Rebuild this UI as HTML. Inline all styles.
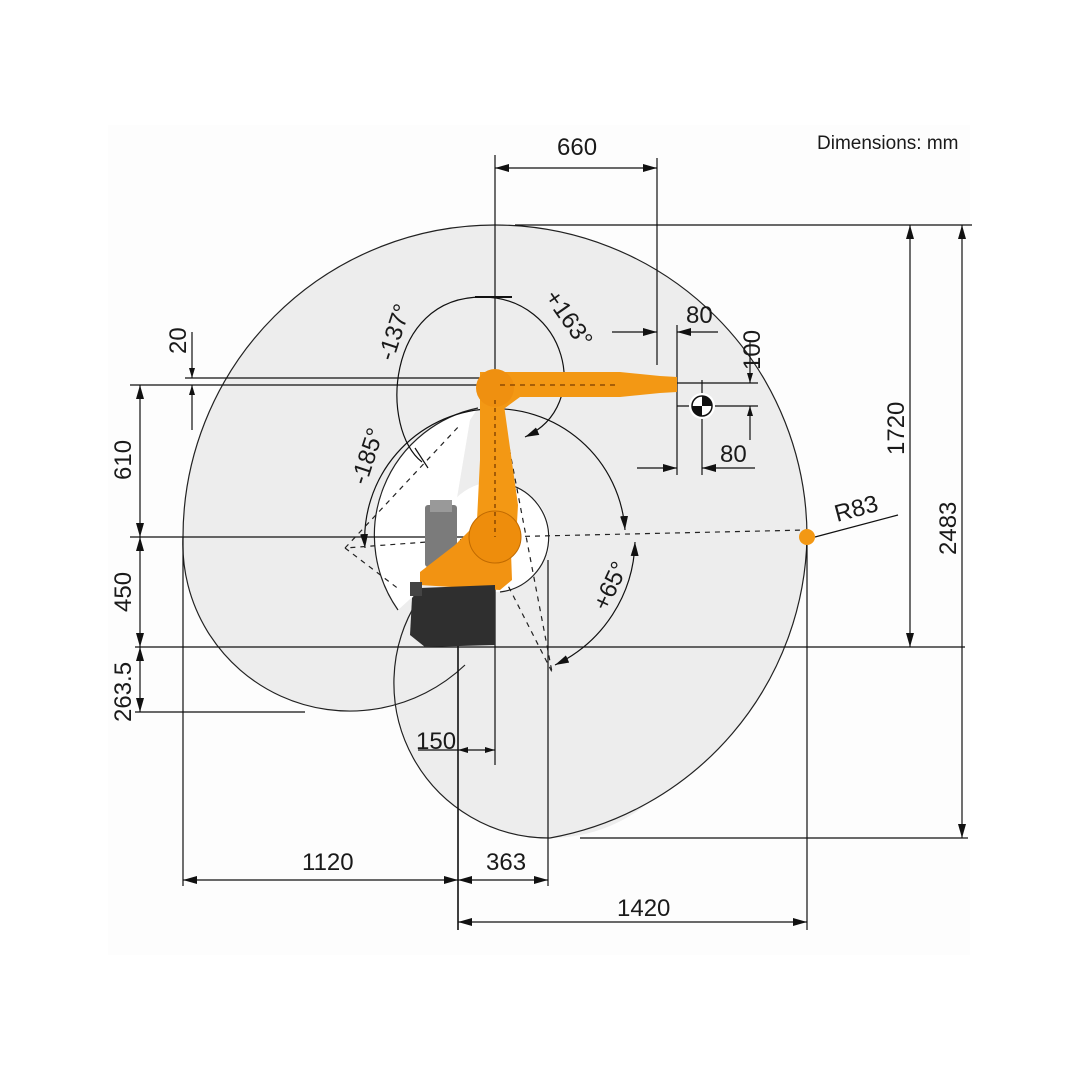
<!DOCTYPE html>
<html><head><meta charset="utf-8"><style>
html,body{margin:0;padding:0;background:#fff;}
svg{display:block;}
text{font-family:"Liberation Sans",sans-serif;fill:#1a1a1a;}
</style></head><body>
<svg width="1080" height="1080" viewBox="0 0 1080 1080" xmlns="http://www.w3.org/2000/svg">
<defs>
<marker id="a" viewBox="0 0 10 6" refX="10" refY="3" markerWidth="10" markerHeight="6" orient="auto-start-reverse" markerUnits="userSpaceOnUse"><path d="M0,0 L10,3 L0,6 Z" fill="#111"/></marker>
<marker id="b" viewBox="0 0 14 8" refX="14" refY="4" markerWidth="14" markerHeight="8" orient="auto-start-reverse" markerUnits="userSpaceOnUse"><path d="M0,0 L14,4 L0,8 Z" fill="#111"/></marker>
</defs>
<rect x="108" y="125" width="862" height="830" fill="#fdfdfd"/>
<!-- envelope fill -->
<g fill="#ededed">
<path d="M183,537 A312,312 0 0 1 807,537 A312,312 0 0 1 550,838 L495,537 Z"/>
<path d="M183,537 A167,167 0 0 0 465,665 L495,537 Z"/>
<circle cx="550" cy="683" r="155"/>
</g>
<!-- inner white -->
<g fill="#fff">
<path d="M478,408 A130,130 0 0 0 398,610 L420,590 L455,510 L470,420 Z"/>
<circle cx="495" cy="537" r="55"/>
</g>
<!-- envelope outlines -->
<g fill="none" stroke="#222" stroke-width="1.2">
<path d="M183,537 A312,312 0 0 1 807,537 A312,312 0 0 1 550,838"/>
<path d="M183,537 A167,167 0 0 0 465,665"/>
<path d="M550,838 A155,155 0 0 1 418,600"/>
<path d="M478,408 A130,130 0 0 0 398,610"/>
<path d="M507,484 A55,55 0 0 1 500,592"/>
</g>
<!-- dimension lines -->
<g stroke="#111" stroke-width="1.2" fill="none">
<line x1="495" y1="155" x2="495" y2="765"/>
<line x1="657" y1="158" x2="657" y2="365"/>
<line x1="495" y1="168" x2="657" y2="168" marker-start="url(#b)" marker-end="url(#b)"/>
<line x1="515" y1="225" x2="972" y2="225"/>
<line x1="910" y1="225" x2="910" y2="647" marker-start="url(#b)" marker-end="url(#b)"/>
<line x1="962" y1="225" x2="962" y2="838" marker-start="url(#b)" marker-end="url(#b)"/>
<line x1="580" y1="838" x2="968" y2="838"/>
<line x1="135" y1="647" x2="965" y2="647"/>
<line x1="130" y1="537" x2="495" y2="537"/>
<line x1="130" y1="385" x2="495" y2="385"/>
<line x1="185" y1="378" x2="495" y2="378"/>
<line x1="140" y1="385" x2="140" y2="537" marker-start="url(#b)" marker-end="url(#b)"/>
<line x1="140" y1="537" x2="140" y2="647" marker-start="url(#b)" marker-end="url(#b)"/>
<line x1="140" y1="647" x2="140" y2="712" marker-start="url(#b)" marker-end="url(#b)"/>
<line x1="135" y1="712" x2="305" y2="712"/>
<line x1="192" y1="332" x2="192" y2="378" marker-end="url(#a)"/>
<line x1="192" y1="430" x2="192" y2="385" marker-end="url(#a)"/>
<line x1="183" y1="537" x2="183" y2="886"/>
<line x1="458" y1="645" x2="458" y2="930" stroke-width="1.6"/>
<line x1="548" y1="560" x2="548" y2="886"/>
<line x1="807" y1="545" x2="807" y2="930"/>
<line x1="183" y1="880" x2="458" y2="880" marker-start="url(#b)" marker-end="url(#b)"/>
<line x1="458" y1="880" x2="548" y2="880" marker-start="url(#b)" marker-end="url(#b)"/>
<line x1="458" y1="922" x2="807" y2="922" marker-start="url(#b)" marker-end="url(#b)"/>
<line x1="458" y1="750" x2="495" y2="750" marker-start="url(#a)" marker-end="url(#a)"/>
<line x1="418" y1="750" x2="458" y2="750"/>
<line x1="612" y1="332" x2="657" y2="332" marker-end="url(#b)"/>
<line x1="718" y1="332" x2="677" y2="332" marker-end="url(#b)"/>
<line x1="677" y1="325" x2="677" y2="475"/>
<line x1="677" y1="383" x2="758" y2="383"/>
<line x1="677" y1="406" x2="758" y2="406"/>
<line x1="750" y1="340" x2="750" y2="383" marker-end="url(#a)"/>
<line x1="750" y1="440" x2="750" y2="406" marker-end="url(#a)"/>
<line x1="702" y1="380" x2="702" y2="475"/>
<line x1="637" y1="468" x2="677" y2="468" marker-end="url(#b)"/>
<line x1="755" y1="468" x2="702" y2="468" marker-end="url(#b)"/>
<line x1="815" y1="537" x2="898" y2="515"/>
<!-- angle arcs -->
<path d="M422,462 C380,430 385,297 482,297 C565,297 595,405 525,437" marker-end="url(#b)"/>
<line x1="475" y1="297" x2="512" y2="297" stroke-width="2"/>
<path d="M365,548 A130,130 0 1 1 625,530" marker-start="url(#b)" marker-end="url(#b)"/>
<path d="M635,542 A140,140 0 0 1 555,665" marker-start="url(#b)" marker-end="url(#b)"/>
<line x1="415" y1="448" x2="428" y2="468"/>
</g>
<!-- dashed lines -->
<g stroke="#222" stroke-width="1.2" fill="none" stroke-dasharray="5,5">
<line x1="495" y1="537" x2="807" y2="530"/>
<line x1="495" y1="537" x2="345" y2="548"/>
<line x1="345" y1="548" x2="460" y2="425"/>
<line x1="345" y1="548" x2="400" y2="590"/>
<line x1="500" y1="400" x2="552" y2="672"/>
<line x1="495" y1="560" x2="552" y2="672"/>
<line x1="495" y1="385" x2="610" y2="383"/>
</g>
<!-- robot -->
<g>
<rect x="425" y="505" width="32" height="62" rx="3" fill="#7b7b7b"/>
<rect x="430" y="500" width="22" height="12" fill="#999"/>
<path d="M420,585 L420,572 L455,545 L470,530 L510,525 L512,580 L500,590 Z" fill="#f29312"/>
<path d="M480,398 L503,398 L518,505 L516,540 L476,540 L480,460 Z" fill="#f39814"/>
<circle cx="495" cy="537" r="26" fill="#ee8d0c" stroke="#c06a00" stroke-width="1"/>
<path d="M480,372 L620,372 L660,376 L677,377 L677,392 L660,393 L620,397 L520,397 L505,408 L480,408 Z" fill="#f39814"/>
<circle cx="495" cy="388" r="19" fill="#ef9010"/>
<path d="M420,588 L495,585 L495,645 L425,647 L410,635 L412,598 Z" fill="#2f2f2f"/>
<rect x="410" y="582" width="12" height="14" fill="#444"/>
<circle cx="807" cy="537" r="8" fill="#f39814"/>
<line x1="495" y1="400" x2="495" y2="537" stroke="#7a3d00" stroke-width="1.3" stroke-dasharray="4,4"/>
<line x1="500" y1="385" x2="620" y2="385" stroke="#7a3d00" stroke-width="1.2" stroke-dasharray="5,5"/>
</g>
<!-- CoG -->
<circle cx="702" cy="406" r="13" fill="#fff"/>
<circle cx="702" cy="406" r="10" fill="#fff" stroke="#111" stroke-width="1.5"/>
<path d="M702,396 A10,10 0 0 1 712,406 L702,406 Z M702,416 A10,10 0 0 1 692,406 L702,406 Z" fill="#111"/>
<!-- text -->
<text x="817" y="149" font-size="19" fill="#444">Dimensions: mm</text>
<g font-size="24">
<text x="557" y="155">660</text>
<text x="686" y="323">80</text>
<text x="720" y="462">80</text>
<text x="416" y="749">150</text>
<text x="302" y="870">1120</text>
<text x="486" y="870">363</text>
<text x="617" y="916">1420</text>
<text x="0" y="0" transform="translate(837,522) rotate(-15)">R83</text>
<text x="0" y="0" transform="translate(904,455) rotate(-90)">1720</text>
<text x="0" y="0" transform="translate(956,555) rotate(-90)">2483</text>
<text x="0" y="0" transform="translate(131,480) rotate(-90)">610</text>
<text x="0" y="0" transform="translate(131,612) rotate(-90)">450</text>
<text x="0" y="0" transform="translate(131,722) rotate(-90)">263.5</text>
<text x="0" y="0" transform="translate(186,354) rotate(-90)">20</text>
<text x="0" y="0" transform="translate(760,370) rotate(-90)">100</text>
<text x="0" y="0" transform="translate(393,362) rotate(-72)">-137°</text>
<text x="0" y="0" transform="translate(544,297) rotate(55)">+163°</text>
<text x="0" y="0" transform="translate(366,486) rotate(-72)">-185°</text>
<text x="0" y="0" transform="translate(607,612) rotate(-65)">+65°</text>
</g>
</svg>
</body></html>
